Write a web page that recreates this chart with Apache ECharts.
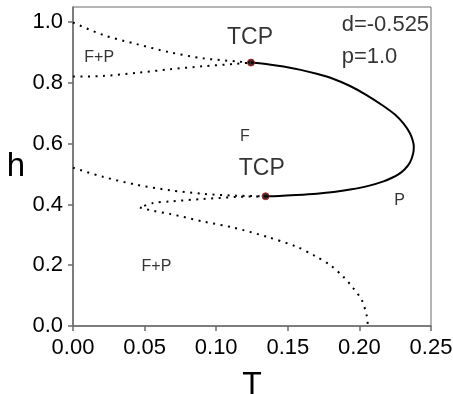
<!DOCTYPE html>
<html>
<head>
<meta charset="utf-8">
<script src="https://cdn.jsdelivr.net/npm/echarts@6/dist/echarts.min.js"></script>
<style>
  html, body { margin: 0; padding: 0; background: #fff; }
  #chart { width: 453px; height: 394px; }
</style>
</head>
<body>
<div id="chart"></div>
<script>
// Phase diagram in the (T, h) plane, d = -0.525, p = 1.0

// Axis ticks
const xTicks = [0, 0.05, 0.10, 0.15, 0.20, 0.25];
const yTicks = [0, 0.2, 0.4, 0.6, 0.8, 1.0];

// Tricritical points [T, h]
const tcpPoints = [[0.1243, 0.867], [0.1345, 0.427]];

// Second-order (continuous) transition line joining the two TCPs
const secondOrder = [
  [0.1243, 0.867], [0.1370, 0.861], [0.1470, 0.854], [0.1590, 0.843],
  [0.1702, 0.830], [0.1820, 0.813], [0.1935, 0.790], [0.2050, 0.760],
  [0.2168, 0.724], [0.2250, 0.695], [0.2310, 0.665], [0.2352, 0.635],
  [0.2373, 0.610], [0.2380, 0.590], [0.2374, 0.565], [0.2352, 0.537],
  [0.2315, 0.515], [0.2275, 0.500], [0.2228, 0.488], [0.2168, 0.476],
  [0.2070, 0.462], [0.1935, 0.449], [0.1820, 0.441], [0.1702, 0.4355],
  [0.1560, 0.431], [0.1440, 0.428], [0.1345, 0.427]
];

// First-order boundaries ending at the upper TCP
const upperOuter = [
  [0.0, 0.999], [0.021, 0.958], [0.0443, 0.928], [0.0676, 0.901],
  [0.0909, 0.881], [0.114, 0.871], [0.1243, 0.867]
];
const upperInner = [
  [0.0, 0.821], [0.021, 0.823], [0.0443, 0.833], [0.0676, 0.845],
  [0.0909, 0.855], [0.114, 0.863], [0.1243, 0.867]
];

// First-order boundaries ending at the lower TCP
const lowerOuter = [
  [0.0, 0.521], [0.021, 0.491], [0.0443, 0.465], [0.0676, 0.447],
  [0.0909, 0.435], [0.114, 0.429], [0.1345, 0.427]
];
const cuspUpper = [
  [0.1345, 0.427], [0.114, 0.4246], [0.0909, 0.418], [0.0676, 0.410],
  [0.056, 0.405], [0.0467, 0.390]
];
const cuspLower = [
  [0.0467, 0.390], [0.056, 0.379], [0.0676, 0.369], [0.0909, 0.344],
  [0.1119, 0.324], [0.1352, 0.294], [0.1562, 0.261], [0.169, 0.2305],
  [0.1795, 0.2007], [0.1888, 0.162], [0.1958, 0.124], [0.2017, 0.085],
  [0.2052, 0.032], [0.2059, 0.0]
];

// Region and point annotations: text, T, h, font size
const noteText = ['TCP', 'TCP', 'F', 'P', 'F+P', 'F+P'];
const noteT    = [0.1236, 0.1318, 0.120, 0.2281, 0.0183, 0.0583];
const noteH    = [0.948, 0.518, 0.622, 0.412, 0.885, 0.195];
const noteSize = [23, 23, 16, 16, 16, 16];

// Parameter block, left-aligned
const paramText = ['d=-0.525', 'p=1.0'];
const paramT    = [0.1876, 0.1876];
const paramH    = [0.990, 0.884];

const FONT = 'Liberation Sans, Arial, sans-serif';
const AXIS_GREY = '#6b6b6b';
const dotted = { color: '#000', width: 2, type: [2, 5.5], cap: 'butt' };

function dottedSeries(data) {
  return {
    type: 'line', data: data, showSymbol: false, smooth: 0.3,
    lineStyle: dotted, silent: true, z: 2
  };
}

const chart = echarts.init(document.getElementById('chart'));
chart.setOption({
  animation: false,
  backgroundColor: '#fff',
  grid: {
    left: 73, right: 22, top: 7, bottom: 68,
    containLabel: false, outerBoundsMode: 'none',
    show: true, borderColor: AXIS_GREY, borderWidth: 1, backgroundColor: '#fff'
  },
  xAxis: {
    type: 'value', min: 0, max: 0.25, interval: 0.05,
    name: 'T', nameLocation: 'middle', nameGap: 43,
    nameTextStyle: { fontFamily: FONT, fontSize: 32, color: '#000' },
    axisLine: { show: true, lineStyle: { color: AXIS_GREY, width: 1.5 } },
    axisTick: { show: true, length: 5, lineStyle: { color: AXIS_GREY, width: 1.5 }, customValues: xTicks },
    axisLabel: {
      margin: 11, fontFamily: FONT, fontSize: 22, color: '#000',
      customValues: xTicks, formatter: v => v.toFixed(2)
    },
    splitLine: { show: false }
  },
  yAxis: {
    type: 'value', min: 0, max: 1.05, interval: 0.2,
    name: 'h', nameLocation: 'middle', nameGap: 48, nameRotate: 0,
    nameTextStyle: { fontFamily: FONT, fontSize: 33, color: '#000' },
    axisLine: { show: true, lineStyle: { color: AXIS_GREY, width: 1.5 } },
    axisTick: { show: true, length: 5, lineStyle: { color: AXIS_GREY, width: 1.5 }, customValues: yTicks },
    axisLabel: {
      margin: 10, fontFamily: FONT, fontSize: 22, color: '#000',
      customValues: yTicks, formatter: v => v.toFixed(1)
    },
    splitLine: { show: false }
  },
  series: [
    dottedSeries(upperOuter),
    dottedSeries(upperInner),
    dottedSeries(lowerOuter),
    dottedSeries(cuspUpper),
    dottedSeries(cuspLower),
    {
      type: 'line', data: secondOrder, showSymbol: false, smooth: 0.3,
      lineStyle: { color: '#000', width: 2, type: 'solid' }, silent: true, z: 3
    },
    {
      type: 'scatter', data: tcpPoints, symbol: 'circle', symbolSize: 7,
      itemStyle: { color: '#000', borderColor: '#d01010', borderWidth: 1 }, z: 5
    },
    {
      type: 'scatter', symbolSize: 0, silent: true, z: 6,
      data: noteText.map((t, i) => ({
        value: [noteT[i], noteH[i]],
        label: {
          show: true, formatter: t, position: 'inside',
          fontFamily: FONT, fontSize: noteSize[i], color: '#000'
        }
      }))
    },
    {
      type: 'scatter', symbolSize: 0, silent: true, z: 6,
      data: paramText.map((t, i) => ({
        value: [paramT[i], paramH[i]],
        label: {
          show: true, formatter: t, position: 'right', distance: 0,
          fontFamily: FONT, fontSize: 22, color: '#000'
        }
      }))
    }
  ]
});
</script>
</body>
</html>
